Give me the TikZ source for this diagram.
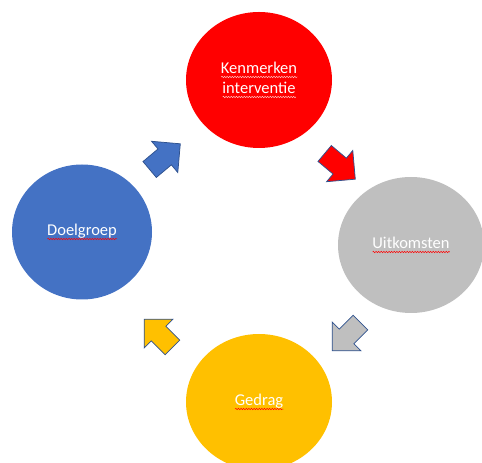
\documentclass[tikz,border=0pt]{standalone}
\usepackage{fontspec}
\setmainfont{Carlito}
\usetikzlibrary{shapes.geometric,shapes.arrows,decorations.pathmorphing}
\definecolor{KenmerkRed}{HTML}{FF0000}
\definecolor{UitkomstGrey}{HTML}{BFBFBF}
\definecolor{GedragAmber}{HTML}{FFC000}
\definecolor{DoelBlue}{HTML}{4472C4}
\definecolor{EdgeNavy}{HTML}{2F528F}
\newlength\spellwidth
\newcommand\spellwave[2][red]{\settowidth\spellwidth{#2}%
  \rlap{\tikz[baseline=0pt]\draw[#1,line width=0.5pt,decorate,
        decoration={snake,amplitude=0.7pt,segment length=2.6pt}]
        (0pt,-3.5pt) -- (\spellwidth,-3.5pt);}#2}

\begin{document}
\begin{tikzpicture}[x=1pt,y=1pt,
    phase/.style={ellipse,minimum width=146pt,minimum height=136pt,inner sep=0pt,
                  text=white,align=center,font=\fontsize{16.5}{20}\selectfont},
    turn/.style={single arrow,single arrow tip angle=90,single arrow head extend=10pt,
                 minimum height=40pt,inner xsep=0pt,inner ysep=10pt,
                 draw=EdgeNavy,line width=0.75pt}]
    \useasboundingbox (0,0) rectangle (482,463);
    \clip (0,0) rectangle (482,463);
    \node[phase,fill=KenmerkRed] (kenmerken) at (259,383)
          {\spellwave[red!25]{Kenmerken}\\\spellwave[red!25]{interventie}};
    \node[phase,fill=UitkomstGrey] (uitkomsten) at (411,218)
          {\spellwave{Uitkomsten}};
    \node[phase,fill=GedragAmber] (gedrag) at (259,61)
          {\spellwave{Gedrag}};
    \node[phase,fill=DoelBlue,minimum width=140pt,minimum height=135pt] (doelgroep) at (82,231)
          {\spellwave{Doelgroep}};
    \node[turn,fill=DoelBlue,rotate=40] (toKenmerken) at (161,303) {};
    \node[turn,fill=KenmerkRed,rotate=-40] (toUitkomsten) at (336,300) {};
    \node[turn,fill=UitkomstGrey,rotate=-135] (toGedrag) at (350,130) {};
    \node[turn,fill=GedragAmber,rotate=135] (toDoelgroep) at (162,126) {};
\end{tikzpicture}
\end{document}
